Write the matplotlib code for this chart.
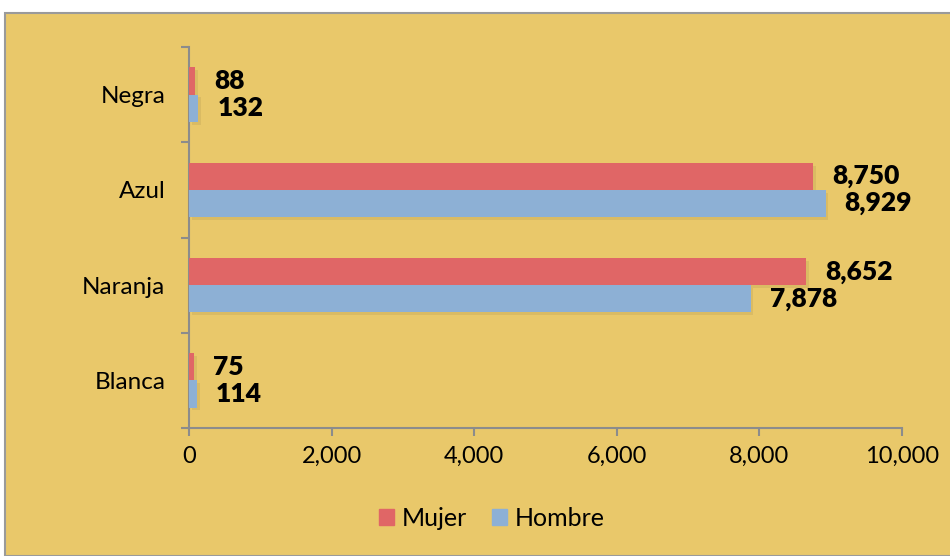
import matplotlib
matplotlib.use("Agg")
import matplotlib.pyplot as plt
import matplotlib.patheffects as pe
from matplotlib.patches import Rectangle, Patch
from matplotlib.ticker import FuncFormatter
import numpy as np

categories = ["Blanca", "Naranja", "Azul", "Negra"]
mujer = [75, 8652, 8750, 88]
hombre = [114, 7878, 8929, 132]
series_names = ["Mujer", "Hombre"]
x_ticks = [0, 2000, 4000, 6000, 8000, 10000]

gold = "#E9C86A"
red = "#E06666"
blue = "#8DB0D5"
gray = "#8C8C8C"

plt.rcParams["font.family"] = ["Lato", "DejaVu Sans"]

fig = plt.figure(figsize=(9.5, 5.56), dpi=100)
fig.patch.set_facecolor("white")
bg = Rectangle((5 / 950, 0), 1.0, 1 - 13 / 556, transform=fig.transFigure,
               facecolor=gold, edgecolor="#9A9A9A", linewidth=1.5, zorder=-10)
fig.add_artist(bg)

ax = fig.add_axes([189 / 950, 1 - 428 / 556, 713 / 950, 381 / 556])
ax.set_facecolor("none")

y = np.arange(len(categories))
h = 0.285
shadow = [pe.SimplePatchShadow(offset=(2, -2), shadow_rgbFace="#a08a48", alpha=0.2), pe.Normal()]
b1 = ax.barh(y + h / 2, mujer, height=h, color=red, path_effects=shadow, zorder=3)
b2 = ax.barh(y - h / 2, hombre, height=h, color=blue, path_effects=shadow, zorder=3)

for bars, vals in ((b1, mujer), (b2, hombre)):
    for bar, v in zip(bars, vals):
        ax.annotate(f"{v:,}", (v, bar.get_y() + bar.get_height() / 2),
                    xytext=(19, 0), textcoords="offset pixels",
                    va="center", ha="left", fontsize=19, fontweight="heavy", color="black")

ax.set_xlim(0, 10000)
ax.set_ylim(-0.5, len(categories) - 0.5)
ax.set_xticks(x_ticks)
ax.xaxis.set_major_formatter(FuncFormatter(lambda v, p: f"{int(v):,}"))
ax.set_yticks(y)
ax.set_yticklabels(categories)
ax.set_yticks(np.arange(len(categories) + 1) - 0.5, minor=True)
ax.tick_params(axis="y", which="major", length=0, pad=17, labelsize=17.5)
ax.tick_params(axis="y", which="minor", length=6, color=gray, width=1.5, direction="out")
ax.tick_params(axis="x", length=6, color=gray, width=1.5, direction="out", labelsize=17, pad=7)

for s in ("top", "right"):
    ax.spines[s].set_visible(False)
for s in ("left", "bottom"):
    ax.spines[s].set_color(gray)
    ax.spines[s].set_linewidth(1.5)

handles = [Patch(color=red, label=series_names[0]), Patch(color=blue, label=series_names[1])]
fig.legend(handles=handles, loc="center", bbox_to_anchor=(492 / 950, 1 - 518 / 556),
           ncol=2, frameon=False, fontsize=18, handlelength=0.6, handleheight=0.6,
           handletextpad=0.3, columnspacing=1.0)

fig.savefig("out.png", dpi=100)
